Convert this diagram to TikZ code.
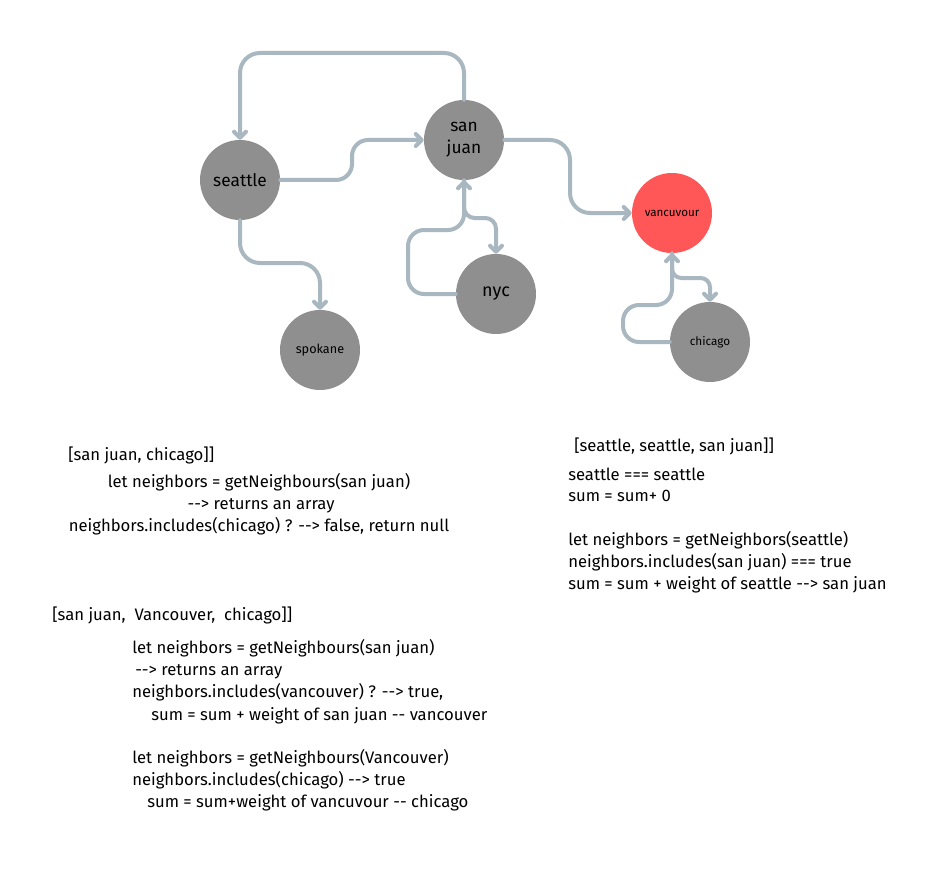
\documentclass[tikz,border=0pt]{standalone}
\usepackage{fontspec}
\setmainfont{Fira Sans}[Ligatures=TeXOff]
\usetikzlibrary{arrows.meta}
\definecolor{edgec}{HTML}{A9B7C0}
\definecolor{nodeg}{HTML}{8F8F8F}
\definecolor{nodered}{HTML}{FF5757}
\begin{document}
\begin{tikzpicture}[x=0.75pt,y=-0.75pt,
  city/.style={circle, fill=nodeg, minimum size=60pt, inner sep=0pt, text=black, align=center},
  link/.style={draw=edgec, line width=3pt, rounded corners=15pt, line cap=round,
    -{Straight Barb[length=4.5pt,width=9pt,round]}},
  txt/.style={anchor=base west, inner sep=0pt, font=\fontsize{12.5}{15}\selectfont},
  txtc/.style={anchor=base, inner sep=0pt, font=\fontsize{12.5}{15}\selectfont}]
\fill[white] (0,0) rectangle (937,884);
\useasboundingbox (0,0) rectangle (937,884);

% nodes
\node[city, font=\fontsize{13}{15}\selectfont] (seattle) at (240,180) {seattle};
\node[city, font=\fontsize{13}{16.5}\selectfont] (sanjuan) at (464,140) {san\\juan};
\node[city, font=\fontsize{13.5}{15}\selectfont] (nyc) at (496,294) {nyc};
\node[city, font=\fontsize{9.5}{11}\selectfont] (spokane) at (320,350) {spokane};
\node[city, fill=nodered, font=\fontsize{8.7}{10}\selectfont] (vanc) at (672,213) {vancuvour};
\node[city, font=\fontsize{8.8}{10}\selectfont] (chicago) at (710,342) {chicago};

% connectors
\draw[link] (sanjuan.north) -- (464,53) -- (240,53) -- (seattle.north);
\draw[link, rounded corners=12pt] (seattle.east) -- (352,180) -- (352,140) -- (sanjuan.west);
\draw[link] (sanjuan.east) -- (570,140) -- (570,213) -- (vanc.west);
\draw[link] (seattle.south) -- (240,263) -- (320,263) -- (spokane.north);
\draw[link, rounded corners=12pt] (nyc.west) -- (408,294) -- (408,230) -- (464,230) -- (sanjuan.south);
\draw[link, rounded corners=8pt] (sanjuan.south) -- (464,218) -- (496,218) -- (nyc.north);
\draw[link, rounded corners=12pt] (chicago.west) -- (623,342) -- (623,305) -- (672,305) -- (vanc.south);
\draw[link, rounded corners=7pt] (vanc.south) -- (672,278) -- (710,278) -- (chicago.north);

% block 1
\node[txt] (b1a) at (68,460) {[san juan, chicago]]};
\node[txtc] (b1b) at (259,487) {let neighbors = getNeighbours(san juan)};
\node[txtc] (b1c) at (261,509) {--> returns an array};
\node[txtc] (b1d) at (259,531) {neighbors.includes(chicago) ? --> false, return null};

% block 2
\node[txt] (b2a) at (52,620) {[san juan,\ \ Vancouver,\ \ chicago]]};
\node[txt] (b2b) at (132,653) {let neighbors = getNeighbours(san juan)};
\node[txt] (b2c) at (135,675) {--> returns an array};
\node[txt] (b2d) at (132,697) {neighbors.includes(vancouver) ? --> true,};
\node[txt] (b2e) at (151,720) {sum = sum + weight of san juan -- vancouver};
\node[txt] (b2f) at (132,763) {let neighbors = getNeighbours(Vancouver)};
\node[txt] (b2g) at (132,785) {neighbors.includes(chicago) --> true};
\node[txt] (b2h) at (147,807) {sum = sum+weight of vancuvour -- chicago};

% block 3
\node[txt] (b3a) at (574,451) {[seattle, seattle, san juan]]};
\node[txt] (b3b) at (568,480) {seattle === seattle};
\node[txt] (b3c) at (568,501) {sum = sum+ 0};
\node[txt] (b3d) at (568,545) {let neighbors = getNeighbors(seattle)};
\node[txt] (b3e) at (568,567) {neighbors.includes(san juan) === true};
\node[txt] (b3f) at (568,589) {sum = sum + weight of seattle --> san juan};
\end{tikzpicture}
\end{document}
